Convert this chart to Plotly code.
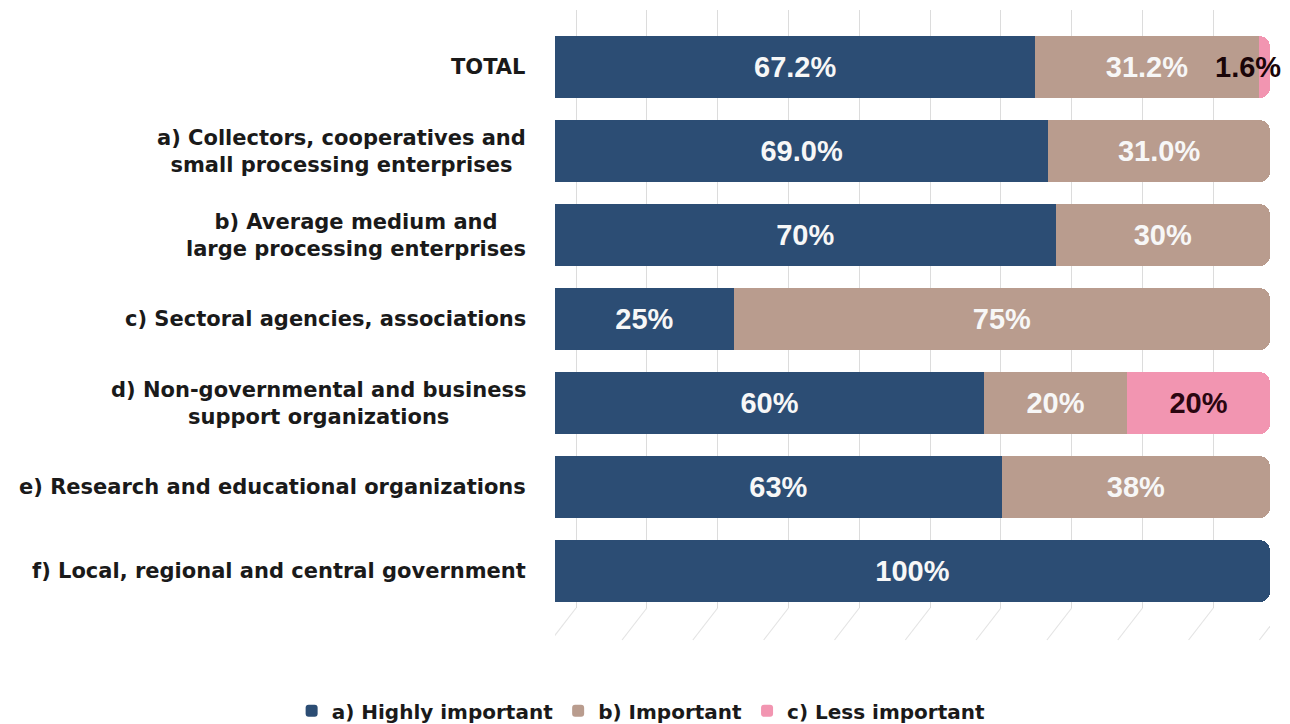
import plotly.graph_objects as go

# Survey results: importance rating by respondent group (percent of answers)
categories = [
    "TOTAL",
    "a) Collectors, cooperatives and<br>small processing enterprises",
    "b) Average medium and<br>large processing enterprises",
    "c) Sectoral agencies, associations",
    "d) Non-governmental and business<br>support organizations",
    "e) Research and educational organizations",
    "f) Local, regional and central government",
]
highly_important = [67.2, 69.0, 70, 25, 60, 62.5, 100]
important = [31.2, 31.0, 30, 75, 20, 37.5, 0]
less_important = [1.6, 0, 0, 0, 20, 0, 0]
label_decimals = [1, 1, 0, 0, 0, 0, 0]
grid_ticks = list(range(0, 101, 10))

series = [
    ("a) Highly important", highly_important, "#2C4D74", "#F7F7F7"),
    ("b) Important", important, "#B99C8E", "#F7F7F7"),
    ("c) Less important", less_important, "#F295B1", "#2A0610"),
]

LABEL_FONT = "DejaVu Sans, Verdana, sans-serif"
VALUE_FONT = "Liberation Sans, Arial, sans-serif"

keys = [f"k{i}" for i in range(len(categories))]

fig = go.Figure()
for name, vals, color, tcolor in series:
    templates = []
    for v, d in zip(vals, label_decimals):
        # very thin segments get their label as an annotation instead
        if v < 5:
            templates.append("")
        else:
            templates.append("<b>%{x:." + str(d) + "f}%</b>")
    fig.add_trace(go.Bar(
        name="<b>" + name + "</b>",
        y=keys,
        x=vals,
        orientation="h",
        marker=dict(color=color, line=dict(width=0)),
        texttemplate=templates,
        textposition="inside",
        insidetextanchor="middle",
        textangle=0,
        constraintext="none",
        textfont=dict(family=VALUE_FONT, size=29, color=tcolor),
        hoverinfo="skip",
    ))

# empty trace so the offset back-wall axis is drawn
fig.add_trace(go.Scatter(x=[], y=[], xaxis="x2", yaxis="y",
                         showlegend=False, hoverinfo="skip"))

annotations = []
# Category labels, centred multi-line text to the left of the bars
for k, cat in zip(keys, categories):
    annotations.append(dict(
        x=0, xref="paper", y=k, yref="y",
        text="<b>" + cat + "</b>", showarrow=False,
        xanchor="right", yanchor="middle", align="center", xshift=-27,
        font=dict(family=LABEL_FONT, size=21, color="#1A1A1A"),
    ))

# Labels for segments too narrow to hold their value
for k, v, d in zip(keys, less_important, label_decimals):
    if 0 < v < 5:
        annotations.append(dict(
            x=100, xref="x", y=k, yref="y",
            text=f"<b>{v:.{d}f}%</b>", showarrow=False,
            xanchor="right", yanchor="middle", xshift=13,
            font=dict(family=VALUE_FONT, size=29, color="#1A0508"),
        ))

# Floor lines of the 3-D wall, slanting down-left from each gridline
shapes = []
for g in grid_ticks:
    shapes.append(dict(
        type="line", xref="x2", yref="paper",
        x0=g, y0=0, x1=g - 3.5, y1=-0.0535,
        line=dict(color="#E4E4E4", width=1.2), layer="below",
    ))

fig.update_layout(
    width=1290, height=724,
    barmode="stack",
    bargap=0.262,
    barcornerradius=10,
    plot_bgcolor="white", paper_bgcolor="white",
    margin=dict(l=555, r=20, t=10, b=116, autoexpand=False),
    font=dict(family=LABEL_FONT, color="#1A1A1A"),
    xaxis=dict(range=[0, 100], showgrid=False, showticklabels=False,
               zeroline=False, showline=False, fixedrange=True),
    xaxis2=dict(range=[-2.97, 98.0], overlaying="x", side="bottom",
                showgrid=True, gridcolor="#DCDCDC", gridwidth=1,
                tickvals=grid_ticks, showticklabels=False, ticks="",
                zeroline=False, showline=False),
    yaxis=dict(range=[6.44, -0.679], showticklabels=False, showgrid=False,
               zeroline=False, showline=False),
    legend=dict(orientation="h", xref="container", yref="paper",
                x=0.497, xanchor="center", y=-0.172, yanchor="middle",
                font=dict(size=20, family=LABEL_FONT, color="#1A1A1A"),
                itemwidth=30, traceorder="normal"),
    annotations=annotations,
    shapes=shapes,
    showlegend=True,
)

fig.write_html("out.html")
